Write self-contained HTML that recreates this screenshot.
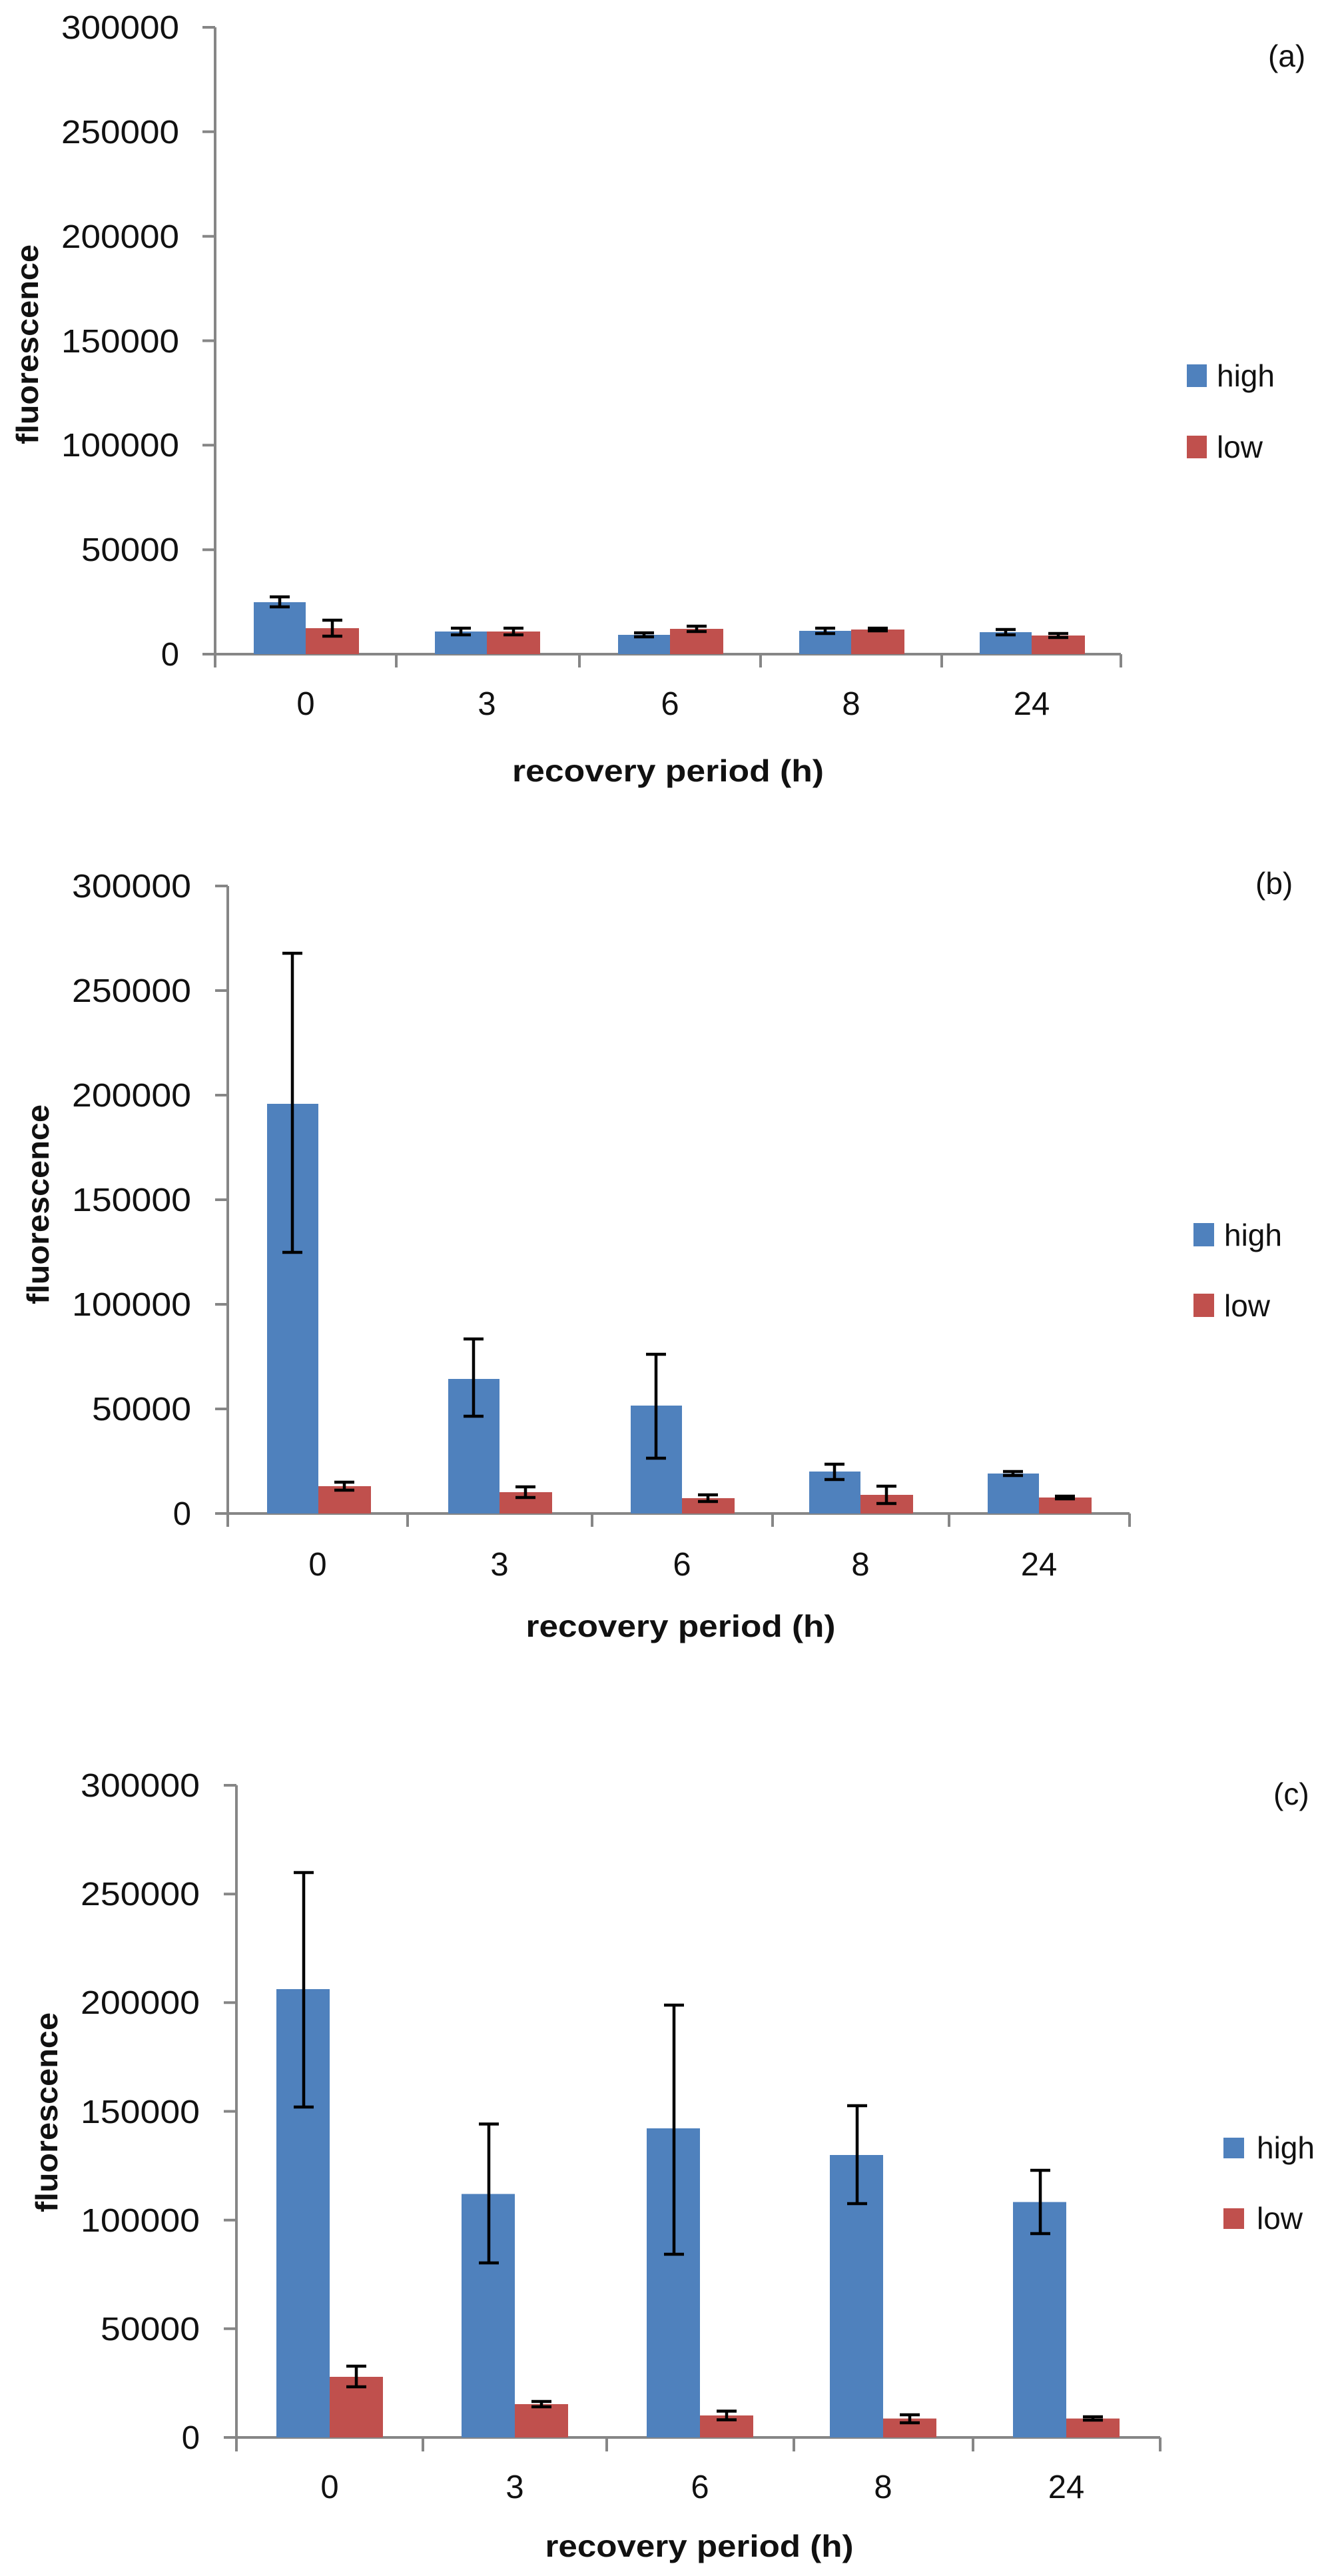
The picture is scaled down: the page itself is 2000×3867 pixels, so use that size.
<!DOCTYPE html>
<html><head><meta charset="utf-8"><style>
html,body{margin:0;padding:0;background:#fff;}
svg{display:block;}
text{font-family:"Liberation Sans",sans-serif;fill:#111;}
.t{font-size:49px;text-anchor:end;}
.x{font-size:49px;text-anchor:middle;}
.b{font-weight:bold;font-size:46px;}
.lg{font-size:46px;}
.ax{stroke:#868686;stroke-width:4;fill:none;}
.e{stroke:#000;stroke-width:4.5;fill:none;}
.h{fill:#4F81BD;}.l{fill:#C0504D;}
</style></head><body>
<svg width="2000" height="3867" viewBox="0 0 2000 3867" xmlns="http://www.w3.org/2000/svg">
<!-- Panel A -->
<g>
<path class="ax" d="M323 41V1002 M304 41H323 M304 197.8H323 M304 354.7H323 M304 511.5H323 M304 668.3H323 M304 825.2H323 M304 982H1683 M595 982V1002 M870 982V1002 M1142 982V1002 M1414 982V1002 M1683 982V1002"/>
<text class="t" x="269" y="58" textLength="177" lengthAdjust="spacingAndGlyphs">300000</text>
<text class="t" x="269" y="215" textLength="177" lengthAdjust="spacingAndGlyphs">250000</text>
<text class="t" x="269" y="372" textLength="177" lengthAdjust="spacingAndGlyphs">200000</text>
<text class="t" x="269" y="529" textLength="177" lengthAdjust="spacingAndGlyphs">150000</text>
<text class="t" x="269" y="685" textLength="177" lengthAdjust="spacingAndGlyphs">100000</text>
<text class="t" x="269" y="842" textLength="147" lengthAdjust="spacingAndGlyphs">50000</text>
<text class="t" x="269" y="999">0</text>
<rect class="h" x="381" y="904" width="78" height="78"/><rect class="l" x="459" y="943" width="80" height="39"/>
<rect class="h" x="653" y="948" width="78" height="34"/><rect class="l" x="731" y="948" width="80" height="34"/>
<rect class="h" x="928" y="953" width="78" height="29"/><rect class="l" x="1006" y="944" width="80" height="38"/>
<rect class="h" x="1200" y="947" width="78" height="35"/><rect class="l" x="1278" y="945" width="80" height="37"/>
<rect class="h" x="1471" y="949" width="78" height="33"/><rect class="l" x="1549" y="954" width="80" height="28"/>
<path class="e" d="M420 896V911M405 896H435M405 911H435 M499 931V955M484 931H514M484 955H514 M692 943V953M677 943H707M677 953H707 M771 943V953M756 943H786M756 953H786 M967 950V956M952 950H982M952 956H982 M1046 940V948M1031 940H1061M1031 948H1061 M1239 943V951M1224 943H1254M1224 951H1254 M1318 943V947M1303 943H1333M1303 947H1333 M1510 945V953M1495 945H1525M1495 953H1525 M1589 951V957M1574 951H1604M1574 957H1604"/>
<text class="x" x="459" y="1073">0</text><text class="x" x="731" y="1073">3</text><text class="x" x="1006" y="1073">6</text><text class="x" x="1278" y="1073">8</text><text class="x" x="1549" y="1073">24</text>
<text class="b" x="1003" y="1173" text-anchor="middle" textLength="468" lengthAdjust="spacingAndGlyphs">recovery period (h)</text>
<text class="b" transform="translate(57,517) rotate(-90)" text-anchor="middle" textLength="300" lengthAdjust="spacingAndGlyphs">fluorescence</text>
<rect class="h" x="1782" y="547" width="30" height="34"/><rect class="l" x="1782" y="654" width="30" height="34"/>
<text class="lg" x="1827" y="580">high</text><text class="lg" x="1827" y="687">low</text>
<text class="lg" x="1904" y="100">(a)</text>
</g>
<!-- Panel B -->
<g>
<path class="ax" d="M342 1330V2292 M323 1330H342 M323 1487H342 M323 1644H342 M323 1801H342 M323 1958H342 M323 2115H342 M323 2272H1696 M612 2272V2292 M889 2272V2292 M1160 2272V2292 M1425 2272V2292 M1696 2272V2292"/>
<text class="t" x="287" y="1347" textLength="179" lengthAdjust="spacingAndGlyphs">300000</text>
<text class="t" x="287" y="1504" textLength="179" lengthAdjust="spacingAndGlyphs">250000</text>
<text class="t" x="287" y="1661" textLength="179" lengthAdjust="spacingAndGlyphs">200000</text>
<text class="t" x="287" y="1818" textLength="179" lengthAdjust="spacingAndGlyphs">150000</text>
<text class="t" x="287" y="1975" textLength="179" lengthAdjust="spacingAndGlyphs">100000</text>
<text class="t" x="287" y="2132" textLength="149" lengthAdjust="spacingAndGlyphs">50000</text>
<text class="t" x="287" y="2289">0</text>
<rect class="h" x="401" y="1657" width="77" height="615"/><rect class="l" x="478" y="2231" width="79" height="41"/>
<rect class="h" x="673" y="2070" width="77" height="202"/><rect class="l" x="750" y="2240" width="79" height="32"/>
<rect class="h" x="947" y="2110" width="77" height="162"/><rect class="l" x="1024" y="2249" width="79" height="23"/>
<rect class="h" x="1215" y="2209" width="77" height="63"/><rect class="l" x="1292" y="2244" width="79" height="28"/>
<rect class="h" x="1483" y="2212" width="77" height="60"/><rect class="l" x="1560" y="2248" width="79" height="24"/>
<path class="e" d="M439 1431V1880M424 1431H454M424 1880H454 M711 2010V2126M696 2010H726M696 2126H726 M985 2033V2189M970 2033H1000M970 2189H1000 M1253 2198V2221M1238 2198H1268M1238 2221H1268 M1521 2209V2215M1506 2209H1536M1506 2215H1536 M517 2225V2237M502 2225H532M502 2237H532 M789 2232V2248M774 2232H804M774 2248H804 M1063 2244V2254M1048 2244H1078M1048 2254H1078 M1331 2231V2257M1316 2231H1346M1316 2257H1346 M1599 2246V2250M1584 2246H1614M1584 2250H1614"/>
<text class="x" x="477" y="2365">0</text><text class="x" x="750" y="2365">3</text><text class="x" x="1024" y="2365">6</text><text class="x" x="1292" y="2365">8</text><text class="x" x="1560" y="2365">24</text>
<text class="b" x="1022" y="2457" text-anchor="middle" textLength="465" lengthAdjust="spacingAndGlyphs">recovery period (h)</text>
<text class="b" transform="translate(73,1808) rotate(-90)" text-anchor="middle" textLength="300" lengthAdjust="spacingAndGlyphs">fluorescence</text>
<rect class="h" x="1792" y="1836" width="31" height="35"/><rect class="l" x="1792" y="1942" width="31" height="35"/>
<text class="lg" x="1838" y="1870">high</text><text class="lg" x="1838" y="1976">low</text>
<text class="lg" x="1885" y="1342">(b)</text>
</g>
<!-- Panel C -->
<g>
<path class="ax" d="M355 2680V3680 M336 2680H355 M336 2843.2H355 M336 3006.3H355 M336 3169.5H355 M336 3332.7H355 M336 3495.8H355 M336 3659H1742 M635 3659V3680 M911 3659V3680 M1192 3659V3680 M1461 3659V3680 M1742 3659V3680"/>
<text class="t" x="300" y="2697" textLength="179" lengthAdjust="spacingAndGlyphs">300000</text>
<text class="t" x="300" y="2860" textLength="179" lengthAdjust="spacingAndGlyphs">250000</text>
<text class="t" x="300" y="3023" textLength="179" lengthAdjust="spacingAndGlyphs">200000</text>
<text class="t" x="300" y="3187" textLength="179" lengthAdjust="spacingAndGlyphs">150000</text>
<text class="t" x="300" y="3350" textLength="179" lengthAdjust="spacingAndGlyphs">100000</text>
<text class="t" x="300" y="3513" textLength="149" lengthAdjust="spacingAndGlyphs">50000</text>
<text class="t" x="300" y="3676">0</text>
<rect class="h" x="415" y="2986" width="80" height="673"/><rect class="l" x="495" y="3568" width="80" height="91"/>
<rect class="h" x="693" y="3293.5" width="80" height="365.5"/><rect class="l" x="773" y="3609" width="80" height="50"/>
<rect class="h" x="971" y="3195" width="80" height="464"/><rect class="l" x="1051" y="3626" width="80" height="33"/>
<rect class="h" x="1246" y="3235" width="80" height="424"/><rect class="l" x="1326" y="3630.6" width="80" height="28.4"/>
<rect class="h" x="1521" y="3305.6" width="80" height="353.4"/><rect class="l" x="1601" y="3630.6" width="80" height="28.4"/>
<path class="e" d="M456 2811V3163M441 2811H471M441 3163H471 M734 3188.5V3397M719 3188.5H749M719 3397H749 M1012 3010V3384M997 3010H1027M997 3384H1027 M1287 3161V3308M1272 3161H1302M1272 3308H1302 M1562 3258V3353M1547 3258H1577M1547 3353H1577 M535 3552V3583M520 3552H550M520 3583H550 M813 3605V3613M798 3605H828M798 3613H828 M1091 3619.5V3632.5M1076 3619.5H1106M1076 3632.5H1106 M1366 3625V3637M1351 3625H1381M1351 3637H1381 M1641 3628V3633M1626 3628H1656M1626 3633H1656"/>
<text class="x" x="495" y="3750">0</text><text class="x" x="773" y="3750">3</text><text class="x" x="1051" y="3750">6</text><text class="x" x="1326" y="3750">8</text><text class="x" x="1601" y="3750">24</text>
<text class="b" x="1050" y="3838" text-anchor="middle" textLength="463" lengthAdjust="spacingAndGlyphs">recovery period (h)</text>
<text class="b" transform="translate(86,3171) rotate(-90)" text-anchor="middle" textLength="300" lengthAdjust="spacingAndGlyphs">fluorescence</text>
<rect class="h" x="1837" y="3209" width="31" height="31"/><rect class="l" x="1837" y="3315" width="31" height="31"/>
<text class="lg" x="1887" y="3240">high</text><text class="lg" x="1887" y="3346">low</text>
<text class="lg" x="1912" y="2709">(c)</text>
</g>
</svg>
</body></html>
